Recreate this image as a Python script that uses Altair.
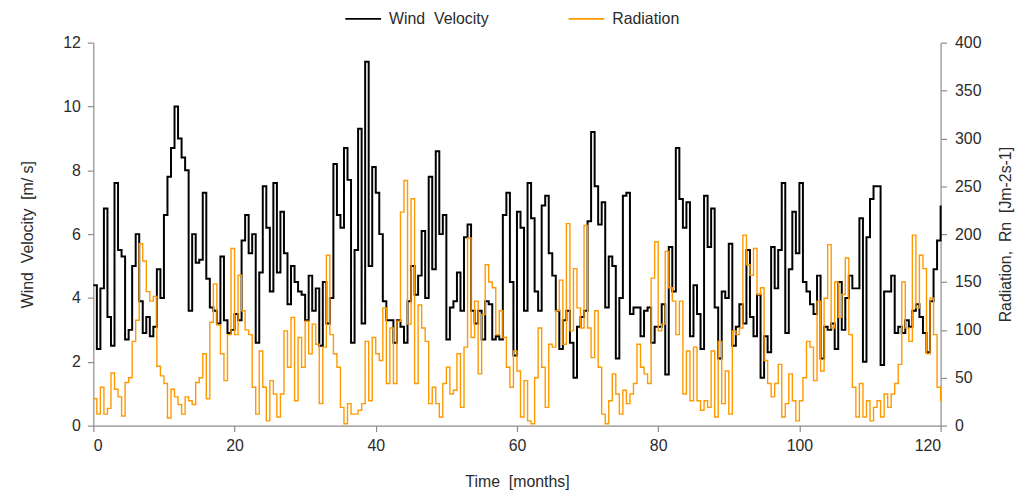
import altair as alt
import pandas as pd

# time axis: half-month steps, 0 .. 120 months
months = [i / 2 for i in range(241)]

# Wind velocity [m/s] (one value per half month)
wind = [
    4.4, 2.4, 4.3, 6.8, 3.4, 2.5, 7.6, 5.5, 5.3, 2.7,
    3.0, 5.0, 6.0, 3.9, 2.9, 3.4, 2.8, 3.1, 4.9, 4.0,
    6.6, 7.8, 8.7, 10.0, 9.0, 8.4, 8.0, 3.6, 6.0, 5.1,
    5.2, 7.3, 4.6, 3.7, 3.6, 3.2, 5.3, 3.3, 2.9, 3.0,
    3.5, 3.3, 5.8, 6.6, 5.4, 6.0, 2.6, 4.8, 7.5, 6.2,
    4.2, 7.6, 4.8, 6.7, 5.4, 3.8, 5.0, 4.5, 4.2, 4.1,
    3.3, 4.7, 3.6, 4.3, 2.5, 4.5, 3.2, 4.0, 8.2, 6.6,
    6.2, 8.7, 7.7, 2.6, 5.5, 9.3, 3.2, 11.4, 5.0, 8.1,
    7.3, 6.0, 3.9, 3.3, 3.3, 2.6, 3.3, 3.1, 2.6, 3.9,
    5.0, 4.1, 4.7, 6.1, 4.0, 7.8, 4.9, 8.6, 6.0, 6.6,
    2.7, 3.7, 3.9, 4.8, 3.6, 5.9, 6.3, 3.6, 3.2, 3.6,
    2.7, 3.9, 3.8, 2.7, 2.8, 2.7, 6.6, 7.3, 4.5, 2.2,
    6.7, 6.2, 3.6, 7.6, 6.5, 4.2, 3.6, 6.9, 7.2, 5.4,
    4.7, 3.6, 2.4, 3.3, 3.6, 2.6, 1.5, 3.1, 3.4, 3.6,
    6.4, 9.2, 7.5, 6.3, 7.0, 3.7, 5.3, 5.0, 2.1, 4.0,
    7.2, 7.3, 3.5, 3.7, 3.7, 2.8, 3.6, 3.7, 2.6, 3.1,
    3.1, 3.8, 1.6, 5.6, 4.2, 8.7, 7.1, 6.2, 7.0, 2.8,
    4.4, 3.5, 2.4, 7.2, 5.6, 6.8, 3.7, 2.1, 4.2, 4.0,
    5.7, 2.5, 3.1, 3.8, 3.2, 5.5, 3.4, 2.8, 4.1, 1.5,
    2.8, 2.3, 5.6, 4.3, 5.5, 7.6, 2.9, 4.9, 6.7, 5.4,
    7.6, 4.5, 4.2, 3.8, 3.5, 4.7, 2.1, 3.1, 3.0, 3.2,
    2.4, 4.5, 3.0, 4.0, 4.7, 4.3, 4.3, 6.5, 2.0, 5.9,
    7.1, 7.5, 7.5, 1.9, 4.2, 4.2, 4.7, 2.9, 3.1, 2.9,
    3.3, 3.1, 3.6, 3.8, 3.4, 2.9, 2.3, 3.9, 4.9, 5.8,
    6.9,
]

# Radiation Rn [J m-2 s-1] (one value per half month)
radiation = [
    28, 12, 40, 12, 18, 55, 38, 30, 10, 45,
    50, 88, 110, 190, 172, 140, 130, 135, 62, 52,
    44, 8, 38, 30, 22, 12, 30, 26, 22, 45,
    50, 75, 28, 108, 148, 105, 75, 47, 95, 185,
    95, 157, 120, 100, 95, 40, 12, 78, 40, 5,
    47, 33, 9, 33, 99, 61, 113, 26, 92, 61,
    109, 75, 106, 85, 23, 82, 178, 95, 75, 61,
    19, 2, 23, 12, 12, 16, 23, 88, 26, 92,
    75, 68, 123, 44, 102, 44, 109, 223, 256, 106,
    237, 44, 126, 102, 88, 23, 40, 23, 9, 44,
    61, 33, 37, 75, 19, 82, 196, 92, 130, 54,
    116, 168, 150, 144, 95, 120, 92, 61, 40, 78,
    57, 9, 47, 5, 2, 50, 102, 61, 19, 85,
    82, 120, 152, 85, 211, 99, 164, 123, 102, 209,
    102, 71, 120, 61, 12, 2, 26, 54, 33, 12,
    37, 23, 33, 44, 85, 61, 54, 44, 154, 192,
    99, 106, 182, 144, 130, 95, 130, 33, 78, 26,
    82, 26, 16, 26, 19, 78, 9, 88, 23, 57,
    12, 99, 95, 102, 199, 168, 157, 185, 137, 144,
    68, 44, 30, 44, 64, 9, 23, 54, 26, 5,
    26, 50, 88, 82, 47, 130, 57, 133, 189, 102,
    150, 113, 137, 175, 95, 40, 9, 44, 9, 26,
    5, 19, 26, 9, 33, 19, 33, 44, 64, 150,
    102, 88, 199, 123, 178, 164, 75, 133, 95, 40,
    25,
]

series_names = ["Wind\u00a0 Velocity", "Radiation"]
series_colors = ["#000000", "#FF9900"]
x_ticks = [0, 20, 40, 60, 80, 100, 120]
wind_ticks = [0, 2, 4, 6, 8, 10, 12]
rad_ticks = [0, 50, 100, 150, 200, 250, 300, 350, 400]

df = pd.DataFrame({
    "month": months, "wind": wind, "radiation": radiation,
    "s_wind": [series_names[0]] * len(months),
    "s_rad": [series_names[1]] * len(months),
})

FONT = "Liberation Sans"
TXT = "#2b2b2b"
AX = "#8c8c8c"

color_scale = alt.Scale(domain=series_names, range=series_colors)
legend = alt.Legend(
    orient="none", legendX=253, legendY=-43, direction="horizontal", title=None,
    symbolType="stroke", symbolSize=1296, symbolStrokeWidth=1.6,
    labelFont=FONT, labelFontSize=16, labelColor=TXT,
    columnPadding=76, labelOffset=7,
)

x_enc = alt.X(
    "month:Q",
    scale=alt.Scale(domain=[0, 120], nice=False, zero=False),
    axis=alt.Axis(values=x_ticks, title="Time\u00a0 [months]", tickSize=6,
                  labelPadding=6, titlePadding=20, format="d"),
)

base = alt.Chart(df)

wind_line = base.mark_line(interpolate="step-after", strokeWidth=2.0).encode(
    x=x_enc,
    y=alt.Y("wind:Q", scale=alt.Scale(domain=[0, 12], nice=False),
            axis=alt.Axis(orient="left", values=wind_ticks,
                          title="Wind\u00a0 Velocity\u00a0 [m/ s]",
                          tickSize=6, labelPadding=7,
                          titleX=-66, titleY=193, titleAngle=270,
                          titleAlign="center", titleBaseline="middle")),
    color=alt.Color("s_wind:N", scale=color_scale, legend=legend),
)

rad_line = base.mark_line(interpolate="step-after", strokeWidth=1.4).encode(
    x=x_enc,
    y=alt.Y("radiation:Q", scale=alt.Scale(domain=[0, 400], nice=False),
            axis=alt.Axis(orient="right", values=rad_ticks,
                          title="Radiation,\u00a0 Rn\u00a0 [Jm-2s-1]",
                          tickSize=6, labelPadding=8,
                          titleX=65, titleY=193, titleAngle=270,
                          titleAlign="center", titleBaseline="middle")),
    color=alt.Color("s_rad:N", scale=color_scale, legend=legend),
)

chart = (
    alt.layer(wind_line, rad_line)
    .resolve_scale(y="independent")
    .properties(
        width=854, height=386,
        autosize=alt.AutoSizeParams(type="none"),
        padding={"left": 86, "top": 33, "right": 77, "bottom": 66},
    )
    .configure_axis(
        grid=False, labelFont=FONT, labelFontSize=16, labelColor=TXT,
        titleFont=FONT, titleFontSize=16, titleFontWeight="normal", titleColor=TXT,
        domainColor=AX, tickColor=AX, domainWidth=1.2, tickWidth=1.2,
    )
    .configure_view(stroke=None)
)

chart.save("out.html", embed_options={"renderer": "svg", "actions": False})
